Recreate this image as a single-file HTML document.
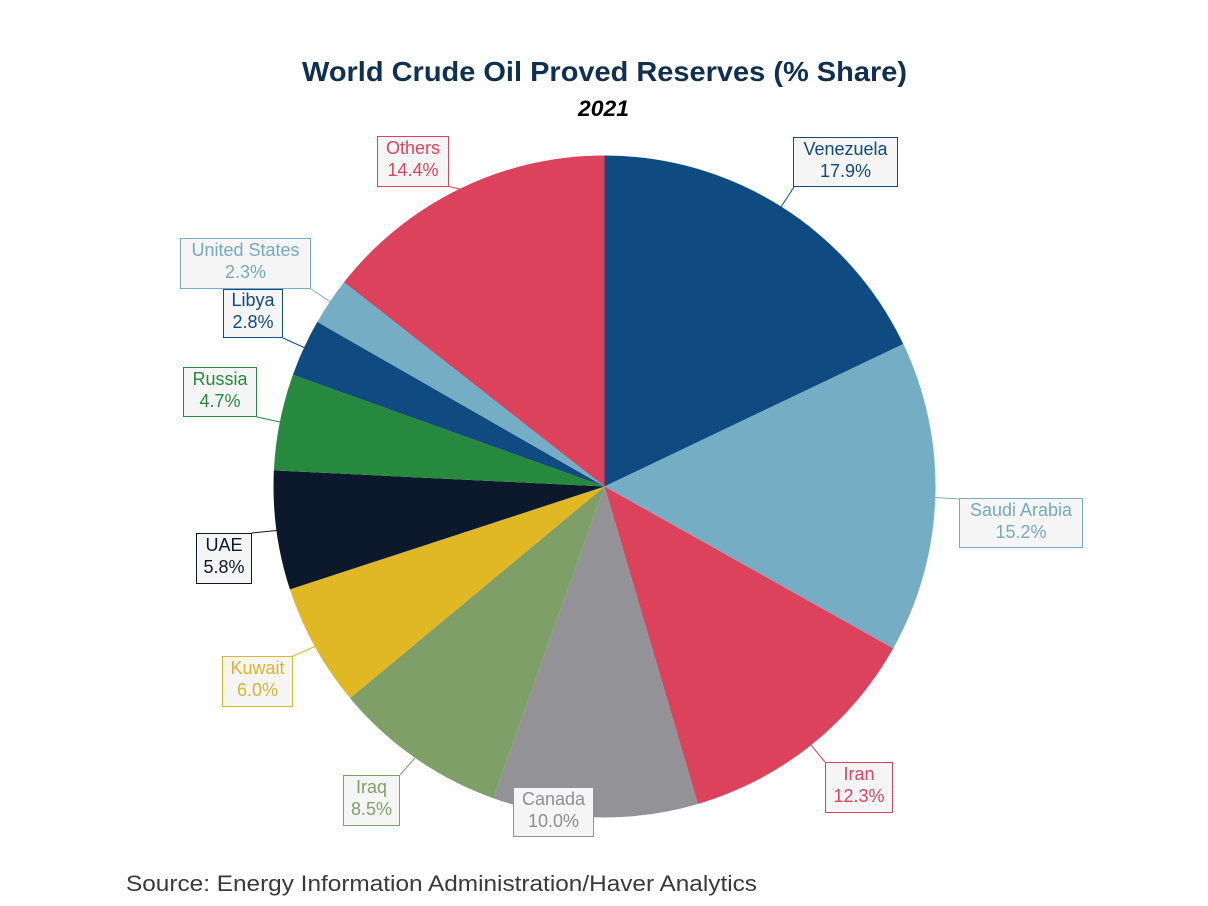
<!DOCTYPE html>
<html>
<head>
<meta charset="utf-8">
<style>
html,body{margin:0;padding:0;background:#ffffff;}
svg{display:block;}
text{font-family:"Liberation Sans",Arial,sans-serif;}
</style>
</head>
<body>
<svg width="1208" height="906" viewBox="0 0 1208 906" xmlns="http://www.w3.org/2000/svg">
<rect width="1208" height="906" fill="#ffffff"/>

<!-- Title -->
<text x="302" y="81" font-size="28" font-weight="bold" fill="#10304f" textLength="605" lengthAdjust="spacingAndGlyphs">World Crude Oil Proved Reserves (% Share)</text>
<text x="578" y="116" font-size="22" font-weight="bold" font-style="italic" fill="#000000" textLength="51" lengthAdjust="spacingAndGlyphs">2021</text>

<!-- Pie slices -->
<g stroke="none">
<path d="M604.5,486.5 L604.5,155.5 A331,331 0 0 1 903.3,344.0 Z" fill="#0f4a80"/>
<path d="M604.5,486.5 L903.3,344.0 A331,331 0 0 1 893.2,648.4 Z" fill="#74adc4"/>
<path d="M604.5,486.5 L893.2,648.4 A331,331 0 0 1 697.9,804.0 Z" fill="#dc425b"/>
<path d="M604.5,486.5 L697.9,804.0 A331,331 0 0 1 493.3,798.2 Z" fill="#939297"/>
<path d="M604.5,486.5 L493.3,798.2 A331,331 0 0 1 350.0,698.1 Z" fill="#7ea068"/>
<path d="M604.5,486.5 L350.0,698.1 A331,331 0 0 1 289.9,589.4 Z" fill="#e0b823"/>
<path d="M604.5,486.5 L289.9,589.4 A331,331 0 0 1 273.9,470.4 Z" fill="#0c182c"/>
<path d="M604.5,486.5 L273.9,470.4 A331,331 0 0 1 292.9,374.8 Z" fill="#27893e"/>
<path d="M604.5,486.5 L292.9,374.8 A331,331 0 0 1 317.3,321.9 Z" fill="#0f4a80"/>
<path d="M604.5,486.5 L317.3,321.9 A331,331 0 0 1 344.0,282.2 Z" fill="#74adc4"/>
<path d="M604.5,486.5 L344.0,282.2 A331,331 0 0 1 604.5,155.5 Z" fill="#dc425b"/>
</g>

<!-- Leader lines -->
<g stroke-width="1" fill="none">
<line x1="781" y1="207" x2="794" y2="187" stroke="#0f4a80"/>
<line x1="935" y1="497.5" x2="959" y2="499" stroke="#74adc4"/>
<line x1="811" y1="745" x2="825" y2="762" stroke="#dc425b"/>
<line x1="415" y1="758" x2="400" y2="775" stroke="#7ea068"/>
<line x1="315" y1="646.5" x2="293" y2="656" stroke="#e0b823"/>
<line x1="276.5" y1="530.5" x2="252" y2="533" stroke="#0c182c"/>
<line x1="280" y1="422" x2="257" y2="417" stroke="#27893e"/>
<line x1="304" y1="347.5" x2="283" y2="338" stroke="#0f4a80"/>
<line x1="330" y1="301.5" x2="311" y2="289" stroke="#74adc4"/>
<line x1="459.5" y1="189" x2="449" y2="186.5" stroke="#dc425b"/>
</g>

<!-- Label boxes -->
<g font-size="18" text-anchor="middle">
  <!-- Venezuela -->
  <rect x="793.5" y="137.5" width="104" height="49" fill="#f5f5f5" stroke="#0f4a80"/>
  <text x="845.5" y="155" fill="#0f4a80">Venezuela</text>
  <text x="845.5" y="177" fill="#0f4a80">17.9%</text>

  <!-- Saudi Arabia -->
  <rect x="959.5" y="498.5" width="123" height="49" fill="#f5f5f5" stroke="#74adc4"/>
  <text x="1021" y="516" fill="#74a9c0">Saudi Arabia</text>
  <text x="1021" y="538" fill="#74a9c0">15.2%</text>

  <!-- Iran -->
  <rect x="825.5" y="762.5" width="67" height="50" fill="#f5f5f5" stroke="#dc425b"/>
  <text x="859" y="780" fill="#dc425b">Iran</text>
  <text x="859" y="802" fill="#dc425b">12.3%</text>

  <!-- Canada -->
  <rect x="513.5" y="787.5" width="80" height="49" fill="#f5f5f5" stroke="#939297"/>
  <text x="553.5" y="805" fill="#8e8d92">Canada</text>
  <text x="553.5" y="827" fill="#8e8d92">10.0%</text>

  <!-- Iraq -->
  <rect x="343.5" y="775.5" width="56" height="50" fill="#f5f5f5" stroke="#7ea068"/>
  <text x="371.5" y="793" fill="#7ea068">Iraq</text>
  <text x="371.5" y="815" fill="#7ea068">8.5%</text>

  <!-- Kuwait -->
  <rect x="222.5" y="656.5" width="70" height="50" fill="#f5f5f5" stroke="#e0b823"/>
  <text x="257.5" y="674" fill="#d9b42e">Kuwait</text>
  <text x="257.5" y="696" fill="#d9b42e">6.0%</text>

  <!-- UAE -->
  <rect x="196.5" y="533.5" width="55" height="50" fill="#f5f5f5" stroke="#0c182c"/>
  <text x="224" y="551" fill="#0c182c">UAE</text>
  <text x="224" y="573" fill="#0c182c">5.8%</text>

  <!-- Russia -->
  <rect x="183.5" y="367.5" width="73" height="49" fill="#f5f5f5" stroke="#27893e"/>
  <text x="220" y="385" fill="#27893e">Russia</text>
  <text x="220" y="407" fill="#27893e">4.7%</text>

  <!-- Libya -->
  <rect x="223.5" y="289.5" width="59" height="48" fill="#f5f5f5" stroke="#0f4a80"/>
  <text x="253" y="306" fill="#0f4a80">Libya</text>
  <text x="253" y="328" fill="#0f4a80">2.8%</text>

  <!-- United States -->
  <rect x="180.5" y="238.5" width="130" height="50" fill="#f5f5f5" stroke="#74adc4"/>
  <text x="245.5" y="256" fill="#74a9c0">United States</text>
  <text x="245.5" y="278" fill="#74a9c0">2.3%</text>

  <!-- Others -->
  <rect x="377.5" y="136.5" width="71" height="50" fill="#f5f5f5" stroke="#dc425b"/>
  <text x="413" y="154" fill="#dc425b">Others</text>
  <text x="413" y="176" fill="#dc425b">14.4%</text>
</g>

<!-- Source -->
<text x="126" y="891" font-size="22" fill="#3a3a3a" textLength="631" lengthAdjust="spacingAndGlyphs">Source:  Energy Information Administration/Haver Analytics</text>
</svg>
</body>
</html>
